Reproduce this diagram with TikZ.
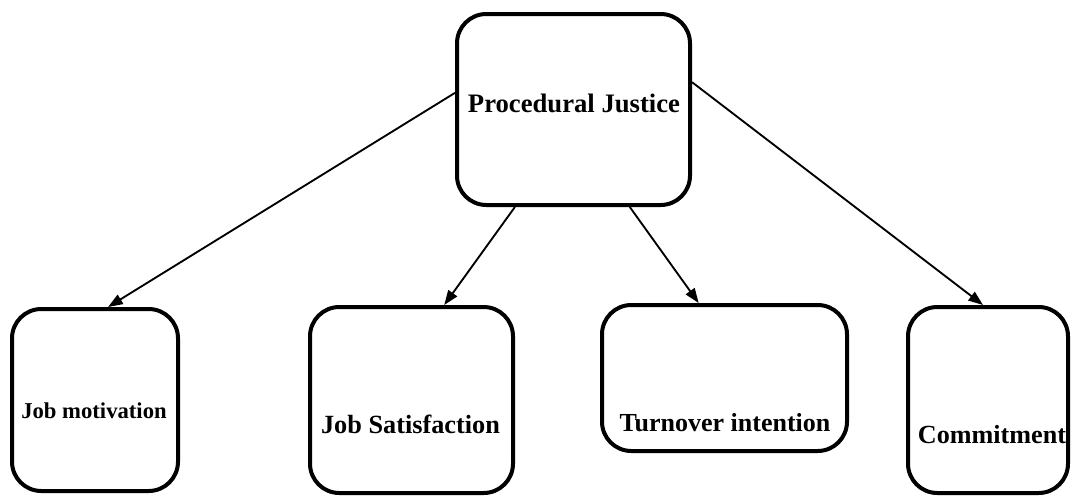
\documentclass[tikz,border=0pt]{standalone}
\usepackage{fontspec}
\setmainfont{Liberation Serif}
\usetikzlibrary{arrows.meta}
\tikzset{
  box/.style={draw=black, line width=3pt, rounded corners=22pt, fill=white},
  lbl/.style={inner sep=0pt, anchor=base, font=\bfseries},
  conn/.style={line width=1.4pt, -{Triangle[length=11pt,width=8pt]}}
}
\begin{document}
\begin{tikzpicture}[x=0.75pt, y=-0.75pt]
\useasboundingbox (0,0) rectangle (1072,497);
% boxes
\node[box, minimum width=174.75pt, minimum height=143.25pt] (pj) at (573.5,109.5) {};
\node[box, minimum width=124.5pt, minimum height=136.5pt] (jm) at (95,400) {};
\node[box, minimum width=152.25pt, minimum height=139.5pt] (js) at (411.5,400) {};
\node[box, minimum width=183.75pt, minimum height=109.5pt] (tv) at (724.5,378) {};
\node[box, minimum width=120pt, minimum height=139.5pt] (cm) at (988,400) {};
% labels
\node[lbl, font=\bfseries\fontsize{20}{20}\selectfont] (tpj) at (574,112) {Procedural Justice};
\node[lbl, font=\bfseries\fontsize{17}{17}\selectfont] (tjm) at (94,418) {Job motivation};
\node[lbl, font=\bfseries\fontsize{19.7}{19.7}\selectfont] (tjs) at (410.5,433) {Job Satisfaction};
\node[lbl, font=\bfseries\fontsize{19.5}{19.5}\selectfont] (ttv) at (725,431) {Turnover intention};
\node[lbl, font=\bfseries\fontsize{19.6}{19.6}\selectfont] (tcm) at (992,443) {Commitment};
% connectors
\draw[conn] (pj.172) -- (jm.82);
\draw[conn] (pj.239) -- (js.71);
\draw[conn] (pj.300) -- (tv.109);
\draw[conn] (pj.13) -- (cm.93);
\end{tikzpicture}
\end{document}
